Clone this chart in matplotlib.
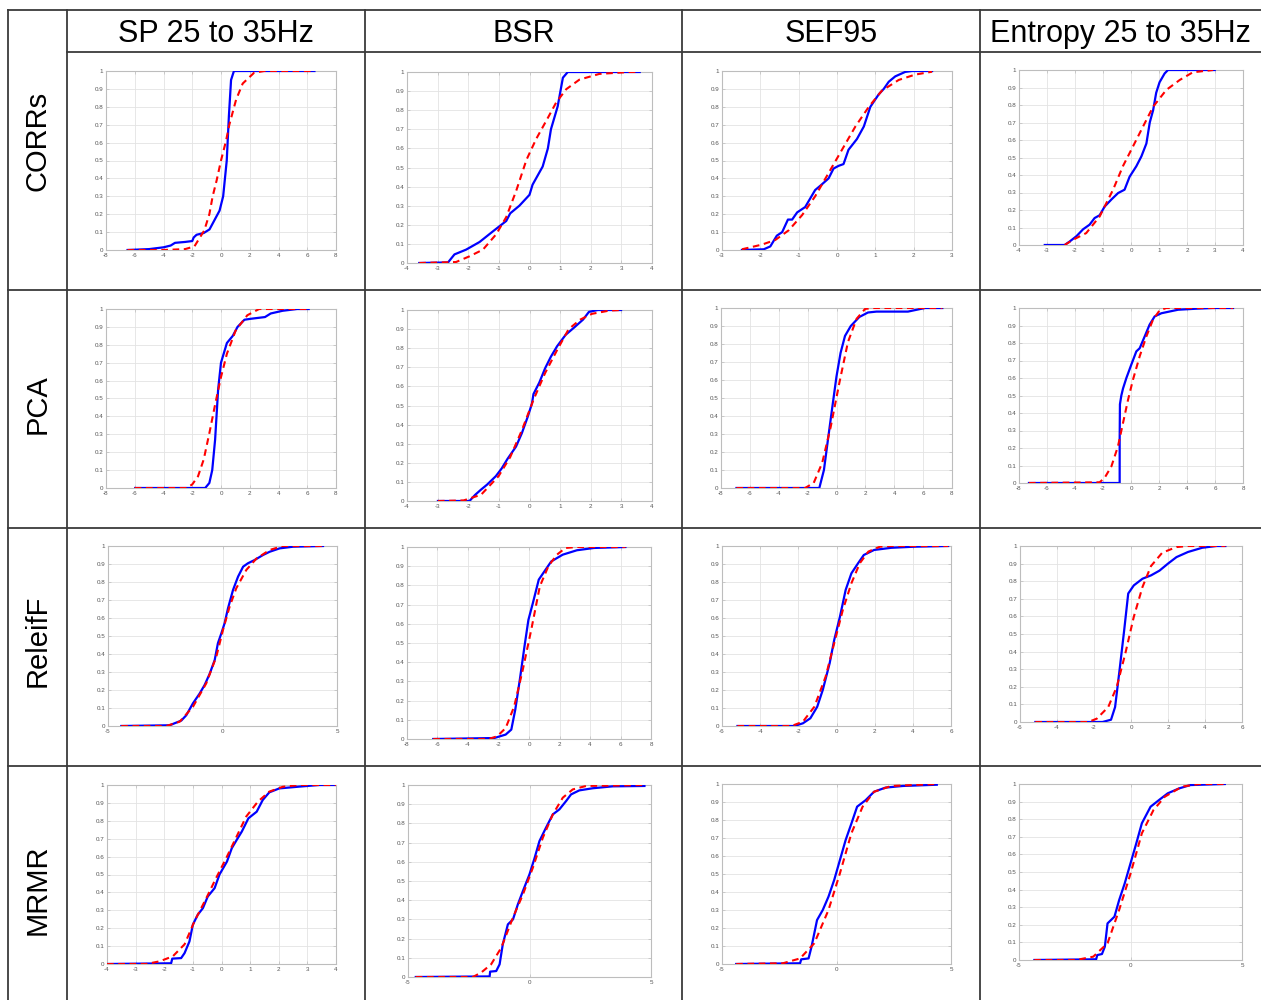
import matplotlib
matplotlib.use('Agg')
import matplotlib.pyplot as plt
from matplotlib.ticker import MultipleLocator, FuncFormatter

plt.rcParams['font.family'] = ['Liberation Sans', 'DejaVu Sans']

# table labels
features = ['SP 25 to 35Hz', 'BSR', 'SEF95', 'Entropy 25 to 35Hz']
methods = ['CORRs', 'PCA', 'ReleifF', 'MRMR']

# x axis (min, max, tick step) per panel, one row per method
x_ranges = [
    [(-8, 8, 2), (-4, 4, 1), (-3, 3, 1), (-4, 4, 1)],
    [(-8, 8, 2), (-4, 4, 1), (-8, 8, 2), (-8, 8, 2)],
    [(-5, 5, 5), (-8, 8, 2), (-6, 6, 2), (-6, 6, 2)],
    [(-4, 4, 1), (-5, 5, 5), (-5, 5, 5), (-5, 5, 5)],
]

corrs_sp_emp = [(-6.5, 0), (-5, 0.005), (-4, 0.015), (-3.5, 0.025), (-3.2, 0.04), (-2.5, 0.045),
                (-2, 0.05), (-1.9, 0.07), (-1.7, 0.085), (-1.2, 0.095), (-0.8, 0.115), (-0.5, 0.16),
                (-0.1, 0.22), (0.15, 0.3), (0.4, 0.5), (0.55, 0.75), (0.7, 0.95), (0.9, 1.0), (6.5, 1.0)]
corrs_sp_norm = [(-6.5, 0), (-4, 0), (-2.5, 0.005), (-1.85, 0.02), (-1.16, 0.11), (-0.81, 0.2),
                 (-0.58, 0.3), (-0.3, 0.39), (0.0, 0.5), (0.35, 0.61), (0.58, 0.7), (1.05, 0.84),
                 (1.51, 0.93), (2.3, 0.99), (3.0, 1.0), (6.5, 1.0)]

corrs_bsr_emp = [(-3.6, 0), (-2.66, 0.003), (-2.45, 0.045), (-2.07, 0.07), (-1.63, 0.11), (-1.2, 0.165),
                 (-0.76, 0.22), (-0.63, 0.26), (-0.33, 0.3), (0.0, 0.357), (0.1, 0.41), (0.43, 0.505),
                 (0.6, 0.6), (0.7, 0.7), (0.92, 0.82), (1.09, 0.97), (1.25, 1.0), (3.6, 1.0)]
corrs_bsr_norm = [(-3.6, 0), (-2.4, 0.005), (-1.96, 0.035), (-1.52, 0.07), (-1.09, 0.15), (-0.76, 0.24),
                  (-0.43, 0.38), (-0.1, 0.54), (0.22, 0.65), (0.6, 0.76), (0.87, 0.84), (1.2, 0.91),
                  (1.63, 0.96), (2.28, 0.99), (3.26, 1.0), (3.6, 1.0)]

corrs_sef_emp = [(-2.48, 0), (-1.91, 0.004), (-1.74, 0.02), (-1.57, 0.08), (-1.43, 0.1), (-1.28, 0.17),
                 (-1.17, 0.17), (-1.04, 0.21), (-0.83, 0.24), (-0.57, 0.335), (-0.43, 0.36), (-0.22, 0.4),
                 (-0.09, 0.455), (0.04, 0.47), (0.17, 0.48), (0.3, 0.56), (0.52, 0.62), (0.7, 0.69),
                 (0.87, 0.8), (1.09, 0.87), (1.22, 0.9), (1.35, 0.94), (1.52, 0.97), (1.78, 0.995),
                 (1.96, 1.0), (2.48, 1.0)]
corrs_sef_norm = [(-2.48, 0.004), (-1.96, 0.03), (-1.61, 0.056), (-1.26, 0.11), (-0.91, 0.195),
                  (-0.57, 0.3), (-0.22, 0.43), (0.13, 0.56), (0.48, 0.69), (0.83, 0.8), (1.17, 0.89),
                  (1.61, 0.95), (2.04, 0.98), (2.48, 0.996)]

corrs_ent_emp = [(-3.08, 0), (-2.37, 0), (-2.19, 0.02), (-1.95, 0.05), (-1.71, 0.09), (-1.48, 0.116),
                 (-1.3, 0.154), (-1.12, 0.17), (-0.94, 0.22), (-0.7, 0.26), (-0.46, 0.297), (-0.23, 0.316),
                 (-0.05, 0.39), (0.19, 0.45), (0.37, 0.506), (0.55, 0.58), (0.67, 0.7), (0.79, 0.77),
                 (0.9, 0.87), (1.02, 0.93), (1.2, 0.98), (1.32, 1.0), (2.99, 1.0)]
corrs_ent_norm = [(-2.37, 0), (-2.07, 0.03), (-1.6, 0.068), (-1.12, 0.163), (-0.64, 0.316), (-0.29, 0.45),
                  (0.07, 0.563), (0.43, 0.677), (0.79, 0.79), (1.26, 0.886), (1.74, 0.943), (2.21, 0.987),
                  (2.93, 1.0)]

pca_sp_emp = [(-5.97, 0), (-1.1, 0), (-0.81, 0.028), (-0.61, 0.1), (-0.41, 0.27), (-0.2, 0.55), (0.0, 0.7),
              (0.41, 0.81), (0.82, 0.85), (1.15, 0.9), (1.63, 0.94), (2.04, 0.945), (3.06, 0.955),
              (3.46, 0.975), (4.28, 0.99), (5.3, 1.0), (6.1, 1.0)]
pca_sp_norm = [(-6.0, 0), (-2.4, 0), (-2.0, 0.02), (-1.6, 0.065), (-1.2, 0.16), (-0.8, 0.31), (-0.4, 0.47),
               (0.0, 0.62), (0.41, 0.75), (1.02, 0.88), (1.83, 0.965), (2.65, 1.0), (6.1, 1.0)]

pca_bsr_emp = [(-2.99, 0), (-1.96, 0), (-1.77, 0.033), (-1.58, 0.06), (-1.39, 0.085), (-1.1, 0.13),
               (-0.91, 0.17), (-0.72, 0.22), (-0.44, 0.285), (-0.25, 0.355), (-0.06, 0.44), (0.08, 0.51),
               (0.13, 0.56), (0.32, 0.62), (0.51, 0.695), (0.7, 0.756), (0.9, 0.81), (1.18, 0.87),
               (1.47, 0.91), (1.75, 0.95), (1.94, 0.99), (2.23, 1.0), (2.99, 1.0)]
pca_bsr_norm = [(-2.99, 0), (-2.15, 0.003), (-1.58, 0.033), (-1.01, 0.13), (-0.63, 0.23), (-0.25, 0.37),
                (0.13, 0.53), (0.51, 0.67), (0.9, 0.79), (1.28, 0.9), (1.66, 0.95), (2.04, 0.98),
                (2.61, 0.997), (2.99, 1.0)]

pca_sef_emp = [(-6.93, 0), (-1.19, 0), (-0.87, 0.1), (-0.59, 0.27), (-0.28, 0.455), (0.0, 0.62),
               (0.28, 0.75), (0.59, 0.845), (0.99, 0.9), (1.58, 0.95), (2.18, 0.975), (2.77, 0.98),
               (4.95, 0.98), (5.54, 0.99), (6.14, 1.0), (7.33, 1.0)]
pca_sef_norm = [(-6.93, 0), (-2.18, 0), (-1.58, 0.028), (-0.99, 0.14), (-0.4, 0.34), (0.2, 0.585),
                (0.79, 0.81), (1.39, 0.94), (1.98, 0.995), (2.57, 1.0), (7.33, 1.0)]

pca_ent_emp = [(-7.29, 0), (-0.81, 0), (-0.81, 0.25), (-0.79, 0.45), (-0.69, 0.5), (-0.57, 0.54),
               (-0.33, 0.6), (0.02, 0.676), (0.38, 0.752), (0.62, 0.77), (0.98, 0.838), (1.33, 0.905),
               (1.69, 0.952), (2.17, 0.97), (2.76, 0.98), (3.36, 0.99), (4.67, 0.996), (5.86, 1.0),
               (7.29, 1.0)]
pca_ent_norm = [(-7.29, 0), (-2.24, 0.004), (-1.88, 0.03), (-1.4, 0.095), (-0.93, 0.21), (-0.57, 0.343),
                (-0.21, 0.476), (0.14, 0.59), (0.62, 0.724), (1.1, 0.838), (1.57, 0.933), (2.05, 0.987),
                (2.52, 1.0), (7.29, 1.0)]

relief_sp_emp = [(-4.42, 0), (-2.31, 0.004), (-1.8, 0.03), (-1.58, 0.06), (-1.29, 0.126), (-1.0, 0.18),
                 (-0.78, 0.228), (-0.56, 0.29), (-0.34, 0.367), (-0.2, 0.46), (-0.05, 0.515), (0.09, 0.57),
                 (0.24, 0.654), (0.46, 0.756), (0.68, 0.83), (0.9, 0.885), (1.11, 0.904), (1.4, 0.922),
                 (1.77, 0.95), (2.06, 0.968), (2.5, 0.987), (3.08, 0.996), (4.39, 1.0)]
relief_sp_norm = [(-4.42, 0), (-2.45, 0), (-1.87, 0.024), (-1.29, 0.107), (-0.71, 0.237), (-0.27, 0.385),
                  (0.02, 0.533), (0.31, 0.663), (0.6, 0.765), (1.04, 0.867), (1.48, 0.93), (2.06, 0.978),
                  (2.64, 1.0), (4.39, 1.0)]

relief_bsr_emp = [(-6.28, 0), (-2.28, 0.005), (-1.53, 0.023), (-1.16, 0.049), (-0.9, 0.153), (-0.6, 0.31),
                  (-0.3, 0.48), (-0.04, 0.62), (0.26, 0.71), (0.64, 0.83), (1.01, 0.873), (1.46, 0.925),
                  (2.21, 0.96), (3.14, 0.983), (4.26, 0.995), (6.32, 1.0)]
relief_bsr_norm = [(-6.28, 0), (-2.65, 0), (-2.09, 0.014), (-1.53, 0.057), (-0.97, 0.17), (-0.41, 0.36),
                   (0.15, 0.57), (0.71, 0.795), (1.27, 0.9), (1.83, 0.96), (2.39, 0.995), (3.14, 1.0),
                   (6.32, 1.0)]

relief_sef_emp = [(-5.19, 0), (-2.21, 0), (-1.76, 0.015), (-1.37, 0.043), (-1.01, 0.107), (-0.72, 0.2),
                  (-0.36, 0.348), (-0.12, 0.478), (0.18, 0.607), (0.48, 0.756), (0.78, 0.848), (1.13, 0.904),
                  (1.43, 0.95), (1.97, 0.978), (2.87, 0.99), (4.06, 0.996), (5.85, 1.0)]
relief_sef_norm = [(-5.19, 0), (-2.36, 0), (-1.76, 0.024), (-1.16, 0.107), (-0.57, 0.274), (-0.12, 0.46),
                   (0.33, 0.644), (0.78, 0.793), (1.22, 0.904), (1.67, 0.969), (2.27, 0.996), (2.87, 1.0),
                   (5.85, 1.0)]

relief_ent_emp = [(-5.17, 0), (-1.54, 0), (-1.08, 0.013), (-0.86, 0.085), (-0.62, 0.294), (-0.37, 0.52),
                  (-0.15, 0.73), (0.15, 0.776), (0.62, 0.814), (1.08, 0.833), (1.54, 0.86), (2.0, 0.9),
                  (2.46, 0.937), (3.08, 0.966), (3.85, 0.99), (4.62, 1.0), (5.1, 1.0)]
relief_ent_norm = [(-5.17, 0), (-2.31, 0), (-1.85, 0.019), (-1.23, 0.085), (-0.77, 0.2), (-0.31, 0.388),
                   (0.15, 0.597), (0.62, 0.767), (1.08, 0.886), (1.69, 0.962), (2.46, 0.994), (3.08, 1.0),
                   (5.1, 1.0)]

mrmr_sp_emp = [(-4.0, 0), (-1.76, 0.004), (-1.72, 0.03), (-1.41, 0.033), (-1.29, 0.061), (-1.12, 0.126),
               (-1.0, 0.22), (-0.83, 0.275), (-0.65, 0.312), (-0.48, 0.377), (-0.24, 0.424), (-0.07, 0.5),
               (0.19, 0.572), (0.36, 0.647), (0.53, 0.693), (0.71, 0.74), (0.94, 0.814), (1.23, 0.851),
               (1.44, 0.916), (1.67, 0.959), (2.02, 0.981), (2.72, 0.991), (3.42, 1.0), (4.0, 1.0)]
mrmr_sp_norm = [(-4.0, 0), (-2.63, 0), (-2.16, 0.015), (-1.7, 0.043), (-1.29, 0.11), (-0.94, 0.24),
                (-0.53, 0.368), (-0.19, 0.48), (0.16, 0.59), (0.51, 0.706), (0.86, 0.823), (1.27, 0.907),
                (1.67, 0.963), (2.14, 0.99), (2.72, 1.0), (4.0, 1.0)]

mrmr_bsr_emp = [(-4.68, 0), (-1.64, 0.003), (-1.62, 0.028), (-1.37, 0.031), (-1.23, 0.066), (-1.1, 0.17),
                (-0.89, 0.274), (-0.68, 0.3), (-0.48, 0.378), (-0.27, 0.448), (0.0, 0.535), (0.21, 0.62),
                (0.41, 0.708), (0.68, 0.778), (0.96, 0.847), (1.23, 0.873), (1.51, 0.917), (1.71, 0.951),
                (2.05, 0.972), (2.6, 0.983), (3.42, 0.993), (4.73, 0.995)]
mrmr_bsr_norm = [(-4.68, 0), (-2.33, 0), (-1.99, 0.023), (-1.58, 0.066), (-1.16, 0.153), (-0.68, 0.31),
                 (-0.27, 0.43), (0.14, 0.57), (0.55, 0.726), (0.96, 0.847), (1.37, 0.934), (1.78, 0.977),
                 (2.33, 0.995), (4.73, 1.0)]

mrmr_sef_emp = [(-4.38, 0), (-1.59, 0.004), (-1.54, 0.026), (-1.22, 0.031), (-1.09, 0.096), (-0.85, 0.244),
                (-0.6, 0.3), (-0.35, 0.374), (-0.1, 0.467), (0.15, 0.578), (0.4, 0.689), (0.65, 0.78),
                (0.9, 0.874), (1.27, 0.91), (1.64, 0.957), (2.14, 0.98), (2.89, 0.989), (4.38, 0.996)]
mrmr_sef_norm = [(-4.38, 0), (-2.34, 0.004), (-1.59, 0.031), (-0.97, 0.115), (-0.35, 0.3), (0.15, 0.504),
                 (0.65, 0.726), (1.14, 0.874), (1.64, 0.957), (2.39, 0.989), (4.38, 1.0)]

mrmr_ent_emp = [(-4.31, 0), (-1.54, 0.004), (-1.49, 0.028), (-1.28, 0.034), (-1.15, 0.076), (-1.03, 0.208),
                (-0.72, 0.246), (-0.51, 0.34), (-0.26, 0.435), (0.0, 0.549), (0.26, 0.663), (0.51, 0.777),
                (0.9, 0.871), (1.28, 0.909), (1.67, 0.947), (2.18, 0.975), (2.69, 0.994), (4.23, 1.0)]
mrmr_ent_norm = [(-4.31, 0), (-2.44, 0), (-1.67, 0.019), (-1.03, 0.095), (-0.51, 0.284), (0.0, 0.49),
                 (0.51, 0.72), (1.03, 0.852), (1.54, 0.928), (2.31, 0.985), (3.08, 1.0), (4.23, 1.0)]

curves = [
    [(corrs_sp_emp, corrs_sp_norm), (corrs_bsr_emp, corrs_bsr_norm),
     (corrs_sef_emp, corrs_sef_norm), (corrs_ent_emp, corrs_ent_norm)],
    [(pca_sp_emp, pca_sp_norm), (pca_bsr_emp, pca_bsr_norm),
     (pca_sef_emp, pca_sef_norm), (pca_ent_emp, pca_ent_norm)],
    [(relief_sp_emp, relief_sp_norm), (relief_bsr_emp, relief_bsr_norm),
     (relief_sef_emp, relief_sef_norm), (relief_ent_emp, relief_ent_norm)],
    [(mrmr_sp_emp, mrmr_sp_norm), (mrmr_bsr_emp, mrmr_bsr_norm),
     (mrmr_sef_emp, mrmr_sef_norm), (mrmr_ent_emp, mrmr_ent_norm)],
]

# ---- layout (pixels) ----
W, H = 1261, 1000
col_edges = [8, 67, 365, 682, 980, W]
row_edges = [10, 52, 290, 528, 766, H]
label_y = [141, 404, 641, 890]

# axes boxes inside each cell: (left, top, right, bottom)
boxes = [
    [(106, 71, 336, 250), (407, 72, 652, 263), (722, 71, 952, 250), (1019, 70, 1243, 245)],
    [(106, 309, 336, 488), (407, 310, 652, 501), (721, 308, 952, 488), (1019, 308, 1243, 483)],
    [(108, 546, 337, 726), (407, 547, 651, 739), (722, 546, 951, 726), (1020, 546, 1242, 722)],
    [(107, 785, 336, 964), (408, 785, 651, 977), (722, 784, 951, 964), (1019, 784, 1242, 960)],
]

line_col = '#3a3a3a'
grid_col = '#e3e3e3'
frame_col = '#bdbdbd'
tick_col = '#555555'

fig = plt.figure(figsize=(W / 100.0, H / 100.0), dpi=100)
fig.patch.set_facecolor('white')

bg = fig.add_axes([0, 0, 1, 1])
bg.set_xlim(0, W)
bg.set_ylim(H, 0)
bg.axis('off')

# table grid
bg.plot([col_edges[0], W], [row_edges[0], row_edges[0]], color=line_col, lw=1.3)
bg.plot([col_edges[1], W], [row_edges[1], row_edges[1]], color=line_col, lw=1.3)
for y in row_edges[2:5]:
    bg.plot([col_edges[0], W], [y, y], color=line_col, lw=1.3)
for x in col_edges[:5]:
    bg.plot([x, x], [row_edges[0], H], color=line_col, lw=1.3)

for j, name in enumerate(features):
    cx = (col_edges[j + 1] + col_edges[j + 2]) / 2.0
    bg.text(cx, (row_edges[0] + row_edges[1]) / 2.0 + 3, name, ha='center', va='center',
            fontsize=22, color='black')
for i, name in enumerate(methods):
    bg.text((col_edges[0] + col_edges[1]) / 2.0, label_y[i], name, ha='center', va='center',
            rotation=90, fontsize=21, color='black')

fmt = FuncFormatter(lambda v, p: ('%g' % round(v, 2)))

for i in range(4):
    for j in range(4):
        l, t, r, b = boxes[i][j]
        ax = fig.add_axes([l / W, 1 - b / H, (r - l) / W, (b - t) / H])
        emp, norm = curves[i][j]
        xmin, xmax, step = x_ranges[i][j]

        ax.plot([p[0] for p in emp], [p[1] for p in emp], color='#0000ff', lw=1.6, zorder=3)
        ax.plot([p[0] for p in norm], [p[1] for p in norm], color='#ff0000', lw=1.5,
                linestyle='--', dashes=(3.2, 2.2), zorder=4)

        ax.set_xlim(xmin, xmax)
        ax.set_ylim(0, 1)
        ax.xaxis.set_major_locator(MultipleLocator(step))
        ax.yaxis.set_major_locator(MultipleLocator(0.1))
        ax.xaxis.set_major_formatter(fmt)
        ax.yaxis.set_major_formatter(fmt)
        ax.grid(True, color=grid_col, lw=0.6)
        ax.set_axisbelow(True)
        for s in ax.spines.values():
            s.set_color(frame_col)
            s.set_linewidth(0.8)
        ax.tick_params(direction='in', length=2, width=0.5, top=True, right=True,
                       color=frame_col, labelcolor=tick_col, labelsize=4.5, pad=2)

fig.savefig('out.png', dpi=100, facecolor='white')
